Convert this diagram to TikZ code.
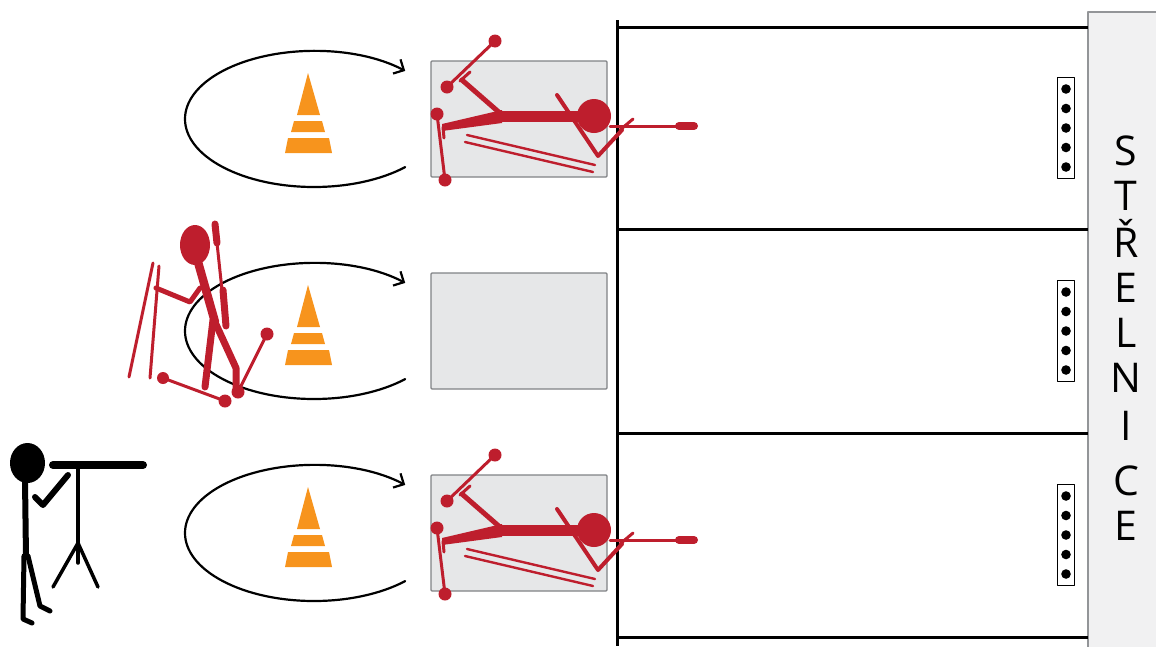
\documentclass[tikz,border=0pt]{standalone}
\usepackage{fontspec}
\setmainfont{Open Sans}
\usetikzlibrary{arrows.meta}
\definecolor{skired}{HTML}{BE1E2D}
\definecolor{coneorange}{HTML}{F7941D}
\definecolor{matfill}{HTML}{E6E7E8}
\definecolor{matedge}{HTML}{808285}
\definecolor{panelfill}{HTML}{F1F1F2}
\definecolor{paneledge}{HTML}{939598}
\tikzset{
  mat/.style={draw=matedge, fill=matfill, line width=1.3pt, rounded corners=1pt,
    minimum width=176pt, minimum height=116pt, inner sep=0pt},
  lane/.style={line width=3pt, line cap=butt},
  loop/.style={line width=2.2pt, -{Straight Barb[length=8pt,width=16pt,line width=2.2pt]}},
  target/.style={draw=black, fill=white, line width=1.4pt, minimum width=17pt,
    minimum height=101pt, inner sep=0pt},
  hole/.style={fill=black},
  letter/.style={font=\fontsize{41}{41}\selectfont, anchor=base, inner sep=0pt},
  cone/.pic={
    \fill[coneorange] (308,73) -- (320,115) -- (297,115) -- cycle;
    \fill[coneorange] (294,121) -- (322,121) -- (325,132) -- (291,132) -- cycle;
    \fill[coneorange] (288,138) -- (329,138) -- (332,153) -- (285,153) -- cycle;
  },
  prone/.pic={
    % poles
    \draw[skired, line width=3pt] (495,41) -- (447,87);
    \fill[skired] (495,41) circle (6.5) (447,87) circle (6.5);
    \draw[skired, line width=3pt] (437,114) -- (445,180);
    \fill[skired] (437,114) circle (6.5) (445,180) circle (6.5);
    % skis
    \draw[skired, line width=2.4pt] (467,135) -- (595,165);
    \draw[skired, line width=2.4pt] (465,142) -- (593,172);
    % legs
    \fill[skired] (502,110) -- (442,124) -- (442,131) -- (502,123) -- cycle;
    \draw[skired, line width=3pt] (443,127) -- (444,138);
    \draw[skired, line width=5pt] (501,114) -- (462,80);
    \draw[skired, line width=3pt] (460,81) -- (470,72);
    % trunk and head
    \draw[skired, line width=11pt, line cap=butt] (500,116) -- (585,116);
    \fill[skired] (594,116) circle (17);
    % arm and rifle
    \draw[skired, line width=4pt] (557,95) -- (598,156) -- (622,130);
    \draw[skired, line width=3pt] (620,130) -- (633,119);
    \draw[skired, line width=3pt] (610,126) -- (690,126);
    \draw[skired, line width=8pt] (679,126) -- (694,126);
  }
}
\begin{document}
\begin{tikzpicture}[x=1pt, y=-1pt, line cap=round, line join=round]
\useasboundingbox (0,0) rectangle (1156,646);

% range panel on the right
\fill[panelfill] (1088,12) rectangle (1157,647);
\draw[paneledge, line width=1.5pt] (1088,647) -- (1088,12) -- (1157,12);
\node[letter] (l1) at (1126,165) {S};
\node[letter] (l2) at (1126,210) {T};
\node[letter] (l3) at (1126,257) {Ř};
\node[letter] (l4) at (1126,302) {E};
\node[letter] (l5) at (1126,347) {L};
\node[letter] (l6) at (1126,392) {N};
\node[letter] (l7) at (1126,440) {I};
\node[letter] (l8) at (1126,495) {C};
\node[letter] (l9) at (1126,540) {E};

% firing line and lane dividers
\draw[lane] (617,20) -- (617,646);
\foreach \y in {27,229,433,637} \draw[lane] (617,\y) -- (1088,\y);

% targets
\foreach \y/\n in {128/ta,331/tb,535/tc} {
  \node[target] (\n) at (1066,\y) {};
  \foreach \d in {-39,-19.5,0,19.5,39} \fill[hole] (1066,\y+\d) circle (4.8);
}

% shooting mats
\node[mat] (m1) at (519,119) {};
\node[mat] (m2) at (519,331) {};
\node[mat] (m3) at (519,533) {};

% penalty loops with cones
\foreach \y in {0,212,414} {
  \draw[loop] (314,119+\y) ++(45:129 and 68) arc[start angle=45, end angle=315, x radius=129, y radius=68];
  \pic at (0,\y) {cone};
}

% athletes lying on the mats
\pic at (0,0) {prone};
\pic at (0,414) {prone};

% athlete skiing into the range
\begin{scope}[skired]
  \draw[line width=3pt] (153,263) -- (129,377);
  \draw[line width=3pt] (159,266) -- (150,378);
  \draw[line width=3pt] (267,334) -- (238,392);
  \fill (267,334) circle (6.5);
  \draw[line width=3pt] (163,378) -- (225,401);
  \fill (163,378) circle (6) (225,401) circle (6.5) (238,392) circle (6.5);
  \draw[line width=7pt] (213,320) -- (205,387);
  \draw[line width=7pt] (214,320) -- (236,368) -- (236,390);
  \draw[line width=8.5pt] (198,262) -- (215,322);
  \draw[line width=5pt] (200,288) -- (190,302) -- (156,288);
  \draw[line width=7pt] (215,224) -- (217,243);
  \draw[line width=3pt] (217,243) -- (222,290);
  \draw[line width=7pt] (223,290) -- (226,326);
  \fill (195,245) ellipse (15 and 20);
\end{scope}

% coach with spotting scope
\begin{scope}[black]
  \fill (27.5,463) ellipse (17.5 and 20);
  \draw[line width=6pt] (25,480) -- (26,557);
  \draw[line width=5pt] (24,556) -- (23,619) -- (32,623);
  \draw[line width=5pt] (28,556) -- (40,606) -- (50,611);
  \draw[line width=6pt] (35,497) -- (43,505) -- (68,475);
  \draw[line width=8pt] (53,465) -- (143,465);
  \draw[line width=3.5pt] (78,467) -- (78,563);
  \draw[line width=3.5pt] (53,587) -- (78,543) -- (98,587);
\end{scope}
\end{tikzpicture}
\end{document}
